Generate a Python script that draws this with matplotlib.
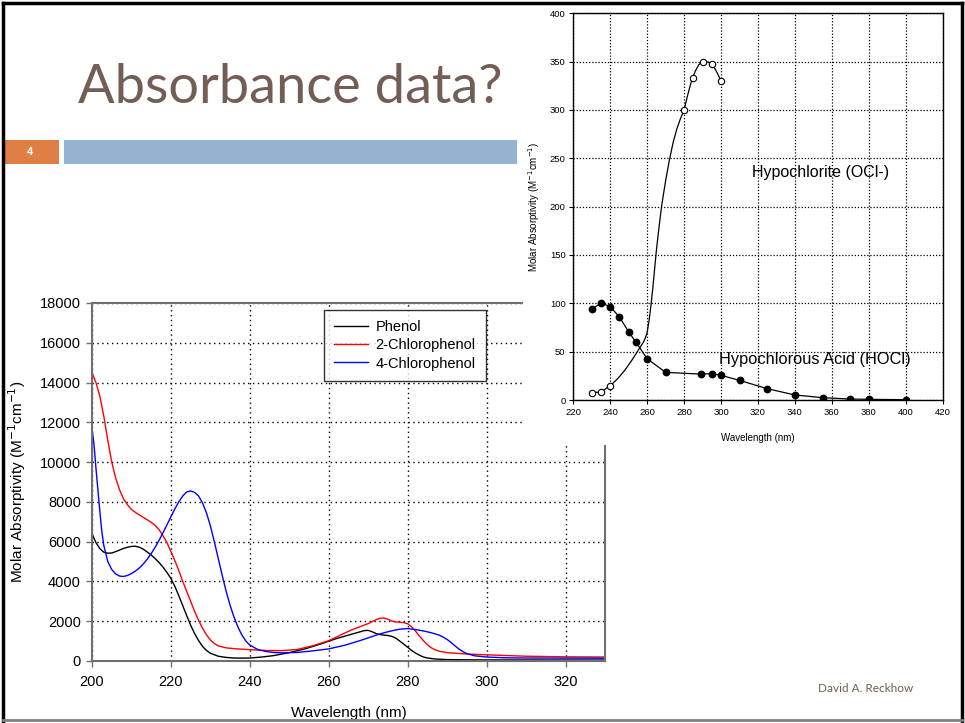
import numpy as np
import matplotlib
matplotlib.use("Agg")
import matplotlib.pyplot as plt
from matplotlib.patches import Rectangle
from matplotlib.lines import Line2D

plt.rcParams['font.family'] = ['Liberation Sans', 'DejaVu Sans']

# ---- phenol spectra (main chart) ----
phenol_wl = [200, 201, 202, 203, 204, 205, 206, 207, 208, 209, 210, 211, 212, 213,
             214, 215, 216, 217, 218, 219, 220, 221, 222, 223, 224, 225, 226, 227,
             228, 229, 230, 232, 234, 236, 238, 240, 243, 246, 250, 254, 258, 262,
             266, 268, 269, 270, 271, 272, 273, 274, 275, 276, 277, 278, 279, 280,
             281, 282, 283, 284, 285, 287, 290, 295, 300, 330]
phenol = [6400, 5950, 5650, 5470, 5420, 5430, 5500, 5580, 5660, 5720, 5760, 5770,
          5720, 5620, 5480, 5330, 5150, 4950, 4720, 4450, 4150, 3750, 3280, 2780,
          2280, 1800, 1380, 1030, 740, 530, 390, 240, 180, 150, 145, 150, 200, 270,
          420, 610, 860, 1130, 1360, 1470, 1530, 1540, 1470, 1380, 1330, 1300, 1280,
          1240, 1150, 1000, 850, 690, 530, 400, 290, 200, 150, 100, 70, 60, 55, 50]

chloro2_wl = [200, 201, 202, 203, 204, 205, 206, 207, 208, 209, 210, 211, 212, 213,
              214, 215, 216, 217, 218, 219, 220, 221, 222, 223, 224, 225, 226, 227,
              228, 229, 230, 231, 232, 234, 236, 240, 244, 248, 252, 256, 260, 264,
              266, 268, 270, 271, 272, 273, 274, 275, 276, 277, 278, 279, 280, 281,
              282, 283, 284, 285, 286, 287, 288, 290, 295, 300, 310, 320, 330]
chloro2 = [14500, 14000, 13300, 12300, 11100, 10000, 9200, 8600, 8150, 7850, 7620,
           7470, 7350, 7220, 7100, 6970, 6820, 6600, 6300, 5950, 5500, 5050, 4550,
           4000, 3500, 3000, 2500, 2050, 1650, 1320, 1060, 880, 760, 660, 620, 570,
           530, 520, 580, 770, 1020, 1400, 1580, 1730, 1880, 1980, 2080, 2150, 2160,
           2100, 2010, 1960, 1950, 1930, 1870, 1720, 1500, 1250, 1020, 820, 660, 560,
           490, 420, 350, 310, 240, 210, 200]

chloro4_wl = [200, 200.5, 201, 201.5, 202, 202.5, 203, 204, 205, 206, 207, 208, 209,
              210, 211, 212, 213, 214, 215, 216, 217, 218, 219, 220, 221, 222, 223,
              224, 225, 226, 227, 228, 229, 230, 231, 232, 233, 234, 235, 236, 237,
              238, 239, 240, 242, 244, 246, 248, 252, 256, 260, 264, 268, 272, 274,
              276, 278, 280, 282, 284, 286, 288, 289, 290, 291, 292, 293, 294, 295,
              297, 300, 305, 310, 330]
chloro4 = [11700, 10900, 9700, 8600, 7500, 6500, 5800, 5000, 4600, 4380, 4270, 4250,
           4300, 4400, 4520, 4680, 4880, 5120, 5400, 5720, 6070, 6450, 6850, 7250,
           7650, 8000, 8300, 8500, 8550, 8480, 8300, 7950, 7450, 6800, 6000, 5150,
           4300, 3500, 2800, 2200, 1700, 1300, 1000, 800, 580, 480, 430, 410, 430,
           510, 610, 790, 1030, 1300, 1420, 1520, 1600, 1630, 1580, 1510, 1420, 1300,
           1200, 1080, 930, 760, 600, 470, 370, 260, 200, 160, 150, 140]

# ---- hypochlorite / hypochlorous acid (inset) ----
ocl_pts_wl = [230, 235, 240, 280, 285, 290, 295, 300]
ocl_pts = [7.6, 8.3, 14.8, 300, 333, 350, 348, 330]
ocl_fit_wl = [230, 235, 240, 244, 248, 252, 256, 258, 259, 260, 261, 262, 263, 264,
              265, 266, 267, 268, 270, 272, 274, 276, 278, 280, 282, 284, 286, 288,
              290, 292, 294, 296, 298, 300]
ocl_fit = [7.6, 8.3, 14.8, 22, 31, 42, 54, 60, 64, 70, 82, 97, 115, 135, 155, 172,
           188, 203, 227, 248, 266, 280, 291, 300, 316, 330, 340, 347, 350, 350, 349,
           345, 338, 330]
hocl_wl = [230, 235, 240, 245, 250, 254, 260, 270, 289, 295, 300, 310, 325, 340,
           355, 370, 380, 400]
hocl = [93.9, 100.1, 96.7, 85.7, 70.5, 59.5, 42.7, 28.6, 26.8, 27.2, 25.5, 20.3,
        11.7, 5.2, 2.4, 1.0, 0.7, 0.3]

W, H = 965, 723
fig = plt.figure(figsize=(W / 100, H / 100), dpi=100)
fig.patch.set_facecolor('white')

def fx(px):
    return px / W

def fy(py):
    return 1 - py / H

brown = '#735E55'

# slide title and header bar
fig.text(fx(290), fy(103), 'Absorbance data?', family=['Lato', 'DejaVu Sans'],
         fontsize=39, color=brown, ha='center', va='baseline')
fig.patches.append(Rectangle((fx(5), fy(164)), fx(54), 24 / H, transform=fig.transFigure,
                             facecolor='#DF7F45', edgecolor='none', zorder=1))
fig.patches.append(Rectangle((fx(64), fy(164)), fx(453), 24 / H, transform=fig.transFigure,
                             facecolor='#94B4D1', edgecolor='none', zorder=1))
fig.text(fx(30), fy(152), '4', color='white', fontsize=8, fontweight='bold',
         ha='center', va='center')
fig.text(fx(866), fy(689), 'David A. Reckhow', family=['Lato', 'DejaVu Sans'],
         fontsize=8.5, color=brown, ha='center', va='center')

# ---- main chart ----
ax = fig.add_axes([fx(92), fy(661), fx(605 - 92), (661 - 303) / H], zorder=0)
ax.plot(phenol_wl, phenol, color='black', lw=1, label='Phenol')
ax.plot(chloro2_wl, chloro2, color='red', lw=1, label='2-Chlorophenol')
ax.plot(chloro4_wl, chloro4, color='blue', lw=1, label='4-Chlorophenol')
ax.set_xlim(200, 330)
ax.set_ylim(0, 18000)
ax.set_xticks(np.arange(200, 321, 20))
ax.set_yticks(np.arange(0, 18001, 2000))
ax.grid(True, color='black', linestyle=(0, (1, 2.5)), lw=1)
ax.set_axisbelow(True)
for s in ax.spines.values():
    s.set_color('#707070')
    s.set_linewidth(1.5)
ax.tick_params(direction='out', length=4, width=1, color='#707070', labelsize=10.5,
               pad=4)
ax.tick_params(axis='x', pad=6)
ax.set_xlabel('Wavelength (nm)', fontsize=11)
ax.set_ylabel('Molar Absorptivity (M$^{-1}$cm$^{-1}$)', fontsize=11)
ax.xaxis.set_label_coords(0.5, -0.126)
ax.yaxis.set_label_coords(-0.125, 0.5)
leg = ax.legend(loc='upper left', bbox_to_anchor=(0.452, 0.98), fontsize=10.5,
                frameon=True, fancybox=False, handlelength=2.3, borderpad=0.7,
                labelspacing=0.28, handletextpad=0.55, borderaxespad=0)
leg.get_frame().set_edgecolor('black')
leg.get_frame().set_linewidth(1)

# white panel behind the inset
fig.patches.append(Rectangle((fx(523), fy(445)), fx(965 - 523), 445 / H,
                             transform=fig.transFigure, facecolor='white',
                             edgecolor='none', zorder=1))

# ---- inset chart ----
ia = fig.add_axes([fx(573.3), fy(400), fx(942.7 - 573.3), (400 - 13.3) / H], zorder=2)
ia.plot(ocl_fit_wl, ocl_fit, color='black', lw=0.9)
ia.plot(ocl_pts_wl, ocl_pts, linestyle='none', marker='o', ms=4.6, mfc='white',
        mec='black', mew=0.8)
ia.plot(hocl_wl, hocl, color='black', lw=0.9, marker='o', ms=4.6, mfc='black',
        mec='black')
ia.set_xlim(220, 420)
ia.set_ylim(0, 400)
ia.set_xticks(np.arange(220, 421, 20))
ia.set_yticks(np.arange(0, 401, 50))
ia.grid(True, color='black', linestyle=(0, (1, 1.5)), lw=0.9)
ia.set_axisbelow(True)
for s in ia.spines.values():
    s.set_color('black')
    s.set_linewidth(1)
ia.tick_params(direction='out', length=3, width=0.8, labelsize=6.8, pad=2.5)
ia.set_xlabel('Wavelength (nm)', fontsize=7)
ia.set_ylabel('Molar Absorptivity (M$^{-1}$cm$^{-1}$)', fontsize=7)
ia.xaxis.set_label_coords(0.5, -0.085)
ia.yaxis.set_label_coords(-0.085, 0.5)
ia.text(354, 235, 'Hypochlorite (OCl-)', fontsize=11.5, ha='center', va='center')
ia.text(351, 42, 'Hypochlorous Acid (HOCl)', fontsize=11.8, ha='center', va='center')

# slide border
border = [((3, 3), (3, 721)), ((3, 962), (3, 3)), ((962, 962), (3, 721))]
for xs, ys in border:
    fig.add_artist(Line2D([fx(x) for x in xs], [fy(y) for y in ys], color='black',
                          lw=2.5, zorder=5))
fig.add_artist(Line2D([fx(3), fx(962)], [fy(720), fy(720)], color='#808080', lw=2,
                      zorder=5))

fig.savefig('out.png', dpi=100)
